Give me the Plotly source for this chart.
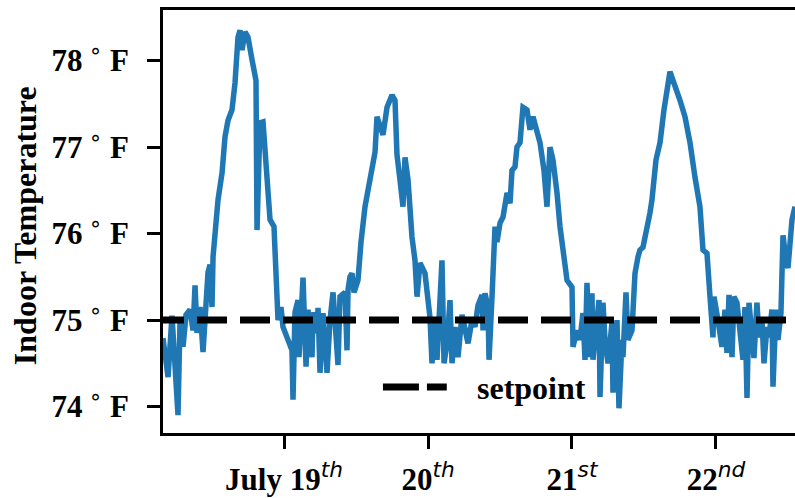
import pandas as pd
import plotly.graph_objects as go

# ---- data (hours relative to July 19 00:00, indoor temperature in deg F) ----
base_day = "2017-07-19 00:00"
hours = [
    -20.17, -19.33, -18.67, -18.33, -17.67, -17.33, -16.83, -16.33, -15.67, -15.17,
    -14.83, -14.5, -14.0, -13.5, -13.0, -12.67, -12.33, -12.0, -11.83, -11.5,
    -11.17, -11.0, -10.33, -9.83, -9.33, -8.67, -8.17, -7.67, -7.33, -7.0,
    -6.5, -6.0, -5.33, -4.67, -4.5, -4.0, -3.5, -2.83, -2.33, -1.67,
    -1.0, -0.5, -0.17, 1.33, 1.5, 1.83, 2.33, 2.5, 3.17, 3.67,
    4.0, 4.67, 4.83, 5.5, 5.67, 6.0, 6.5, 7.17, 7.67, 8.17,
    9.0, 9.33, 10.17, 10.5, 10.67, 11.0, 11.33, 11.67, 12.33, 12.83,
    13.0, 13.5, 14.0, 14.67, 15.17, 15.5, 16.5, 17.17, 18.0, 18.5,
    18.83, 19.33, 19.83, 20.17, 20.67, 21.33, 21.83, 22.17, 22.67, 23.5,
    24.33, 24.67, 25.17, 25.5, 26.33, 26.67, 27.17, 27.67, 28.0, 28.5,
    29.0, 29.67, 30.17, 30.67, 31.33, 31.83, 32.33, 33.0, 33.17, 33.5,
    34.0, 34.17, 34.67, 35.0, 35.17, 35.5, 36.0, 36.5, 37.17, 37.67,
    38.0, 38.5, 38.83, 39.33, 39.83, 40.5, 41.0, 41.5, 42.67, 43.33,
    43.83, 44.33, 44.83, 45.5, 46.0, 47.17, 48.0, 48.17, 48.83, 49.33,
    49.83, 50.17, 50.5, 51.0, 51.33, 51.5, 52.17, 52.5, 52.67, 53.17,
    53.5, 54.0, 54.67, 54.83, 55.5, 55.83, 56.33, 56.5, 57.0, 57.33,
    58.0, 58.5, 59.0, 59.33, 59.83, 60.5, 61.0, 61.33, 61.83, 62.0,
    62.67, 63.33, 64.33, 65.17, 66.0, 66.83, 67.67, 68.5, 69.33, 69.83,
    70.5, 71.0, 71.5, 71.67, 72.0, 72.33, 73.0, 73.17, 73.5, 73.83,
    74.17, 74.67, 75.0, 75.5, 76.0, 76.5, 76.83, 77.17, 77.5, 78.0,
    78.33, 78.83, 79.17, 79.67, 80.0, 80.5, 80.83, 81.33, 81.5, 82.0,
    82.33, 82.83, 83.17, 83.67, 84.0, 84.67, 85.17,
]
temps = [
    74.79, 74.34, 75.05, 74.71, 73.90, 75.00, 74.69, 75.06, 75.12, 74.88,
    75.40, 74.85, 75.15, 74.63, 75.35, 75.55, 75.64, 75.15, 75.73, 76.01,
    76.35, 76.39, 76.70, 77.12, 77.31, 77.43, 77.74, 78.27, 78.35, 78.12,
    78.33, 78.27, 78.01, 77.77, 76.04, 77.28, 77.29, 76.70, 76.16, 76.08,
    75.00, 75.15, 74.92, 74.65, 74.08, 75.09, 75.23, 74.57, 75.49, 74.46,
    75.12, 74.57, 75.09, 74.85, 75.14, 74.39, 75.08, 74.39, 75.00, 75.32,
    74.48, 75.27, 75.32, 74.65, 75.35, 75.50, 75.54, 75.32, 75.46, 75.90,
    76.04, 76.31, 76.50, 76.77, 76.94, 77.35, 77.14, 77.46, 77.60, 77.54,
    76.91, 76.62, 76.31, 76.88, 76.62, 75.96, 75.69, 75.27, 75.66, 75.54,
    75.03, 74.50, 75.00, 74.54, 75.69, 74.50, 74.73, 75.23, 74.50, 74.92,
    74.57, 75.06, 74.91, 74.73, 75.00, 74.92, 75.17, 75.29, 74.88, 75.31,
    75.15, 74.54, 75.27, 75.92, 76.08, 75.90, 76.12, 76.19, 76.47, 76.35,
    76.73, 76.77, 77.00, 77.05, 77.46, 77.43, 77.20, 77.35, 77.05, 76.73,
    76.31, 77.00, 76.85, 76.47, 76.08, 75.46, 75.38, 74.69, 74.88, 74.77,
    75.08, 74.54, 75.43, 74.57, 75.31, 74.54, 75.08, 75.23, 74.11, 75.20,
    74.77, 74.50, 74.97, 74.16, 75.00, 73.98, 74.77, 74.57, 75.32, 74.77,
    74.88, 75.54, 75.73, 75.81, 75.84, 76.04, 76.24, 76.39, 76.65, 76.85,
    77.05, 77.43, 77.87, 77.72, 77.54, 77.35, 77.05, 76.65, 76.31, 75.81,
    75.77, 75.27, 74.80, 75.27, 75.15, 75.00, 74.69, 74.92, 75.12, 74.62,
    75.29, 74.57, 75.27, 75.20, 74.92, 74.54, 75.15, 74.10, 75.20, 74.88,
    74.56, 75.20, 74.80, 75.00, 74.50, 74.92, 74.80, 75.12, 74.23, 75.12,
    74.77, 75.08, 75.98, 75.69, 75.60, 76.16, 76.31,
]
setpoint = 75.0
setpoint_span_hours = [-21.67, 85.17]

x_range_hours = [-20.17, 85.17]
y_range = [73.694, 78.584]

ytick_vals = [74, 75, 76, 77, 78]
xtick_days = ["2017-07-19", "2017-07-20", "2017-07-21", "2017-07-22"]
xtick_main = ["July 19", "20", "21", "22"]
xtick_sup = ["th", "th", "st", "nd"]

# ---- build ----
t0 = pd.Timestamp(base_day)
times = [t0 + pd.Timedelta(hours=h) for h in hours]
x_range = [t0 + pd.Timedelta(hours=h) for h in x_range_hours]
sp_x = [t0 + pd.Timedelta(hours=h) for h in setpoint_span_hours]

SERIF = "Liberation Serif, Times New Roman, serif"
MATH = "font-family:DejaVu Sans;font-weight:normal;font-style:italic"

xtick_text = [f"{m}<sup><span style='{MATH}'>{s}</span></sup>" for m, s in zip(xtick_main, xtick_sup)]
ytick_text = [f"{v}\u2009<sup><span style='font-family:DejaVu Sans;font-weight:normal'>∘</span></sup> F" for v in ytick_vals]

fig = go.Figure()
fig.add_trace(go.Scatter(
    x=times, y=temps, mode="lines",
    line=dict(color="#1f77b4", width=5.5),
    showlegend=False, name="indoor",
))
fig.add_trace(go.Scatter(
    x=sp_x, y=[setpoint, setpoint], mode="lines",
    line=dict(color="black", width=7, dash="30px,13px"),
    showlegend=False, name="setpoint",
))

tickfont = dict(family=SERIF, size=31, color="black", weight="bold")

fig.update_layout(
    width=795, height=498,
    margin=dict(l=163, r=0, t=10, b=65, autoexpand=False),
    paper_bgcolor="white", plot_bgcolor="white",
    showlegend=False,
    xaxis=dict(
        range=x_range, showgrid=False, zeroline=False,
        showline=True, linecolor="black", linewidth=2.5, mirror=True,
        ticks="outside", ticklen=13, tickwidth=2.5, tickcolor="black",
        tickvals=xtick_days, ticktext=xtick_text, tickfont=dict(tickfont),
        ticklabelstandoff=4, automargin=False,
    ),
    yaxis=dict(
        range=y_range, showgrid=False, zeroline=False,
        showline=True, linecolor="black", linewidth=2.5,
        ticks="outside", ticklen=13, tickwidth=2.5, tickcolor="black",
        tickvals=ytick_vals, ticktext=ytick_text, tickfont=dict(tickfont),
        ticklabelstandoff=12, automargin=False,
    ),
)

# y-axis title
fig.add_annotation(
    text="Indoor Temperature", textangle=-90,
    xref="paper", yref="paper", x=0, y=0.489, xanchor="center", yanchor="middle",
    xshift=-138, showarrow=False,
    font=dict(family=SERIF, size=32, color="black", weight="bold"),
)

# legend (dashed sample + label)
fig.add_shape(
    type="line", xref="paper", yref="paper",
    x0=0.348, x1=0.449, y0=0.1087, y1=0.1087,
    line=dict(color="black", width=7, dash="36px,8px"),
)
fig.add_annotation(
    text="setpoint", xref="paper", yref="paper", x=0.4937, y=0.1064,
    xanchor="left", yanchor="middle", showarrow=False,
    font=dict(family=SERIF, size=32, color="black", weight="bold"),
)

fig.write_html(
    "out.html",
    config={"displayModeBar": False},
    post_script="document.body.style.margin='0';document.body.style.padding='0';",
)
